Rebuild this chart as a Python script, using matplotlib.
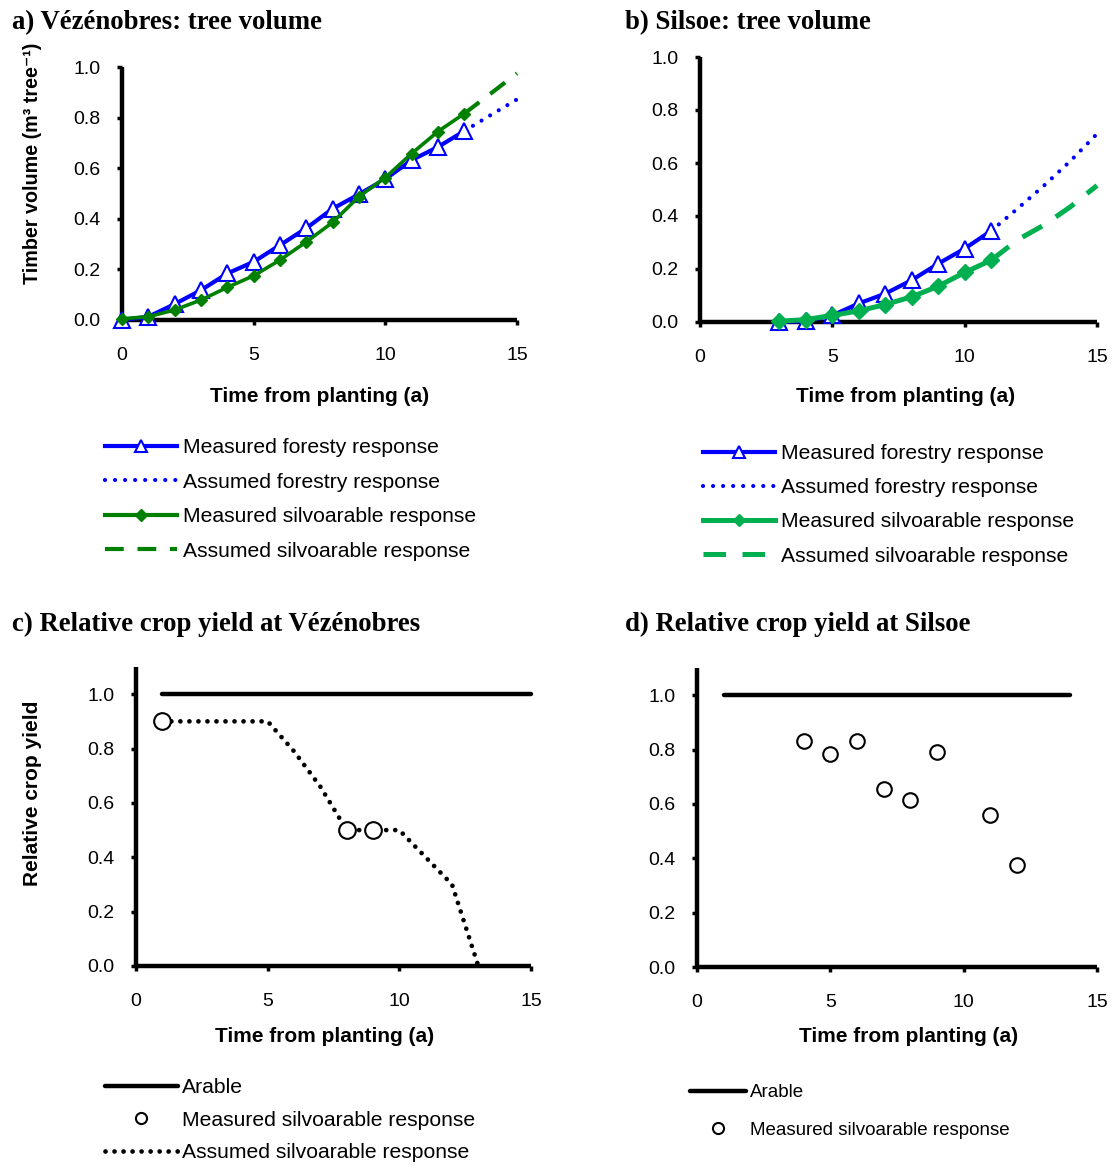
import matplotlib
matplotlib.use("Agg")
import matplotlib.pyplot as plt
from matplotlib.lines import Line2D

plt.rcParams['font.family'] = ['Liberation Sans', 'DejaVu Sans']

# ---------------- data ----------------
# a) Vezenobres tree volume
a_years = [0, 1, 2, 3, 4, 5, 6, 7, 8, 9, 10, 11, 12, 13]
a_forest = [0.0, 0.013, 0.063, 0.118, 0.184, 0.23, 0.296, 0.363, 0.44, 0.497, 0.557, 0.632, 0.684, 0.747]
a_silvo = [0.005, 0.013, 0.04, 0.079, 0.129, 0.175, 0.237, 0.309, 0.386, 0.488, 0.563, 0.658, 0.745, 0.816]
a_ass_years = [13, 14, 15]
a_ass_forest = [0.747, 0.81, 0.872]
a_ass_silvo = [0.816, 0.895, 0.975]

# b) Silsoe tree volume
b_years = [3, 4, 5, 6, 7, 8, 9, 10, 11]
b_forest = [0.0, 0.003, 0.025, 0.07, 0.107, 0.158, 0.22, 0.277, 0.344]
b_silvo = [0.003, 0.009, 0.025, 0.042, 0.066, 0.095, 0.135, 0.187, 0.233]
b_ass_years = [11, 12, 13, 14, 15]
b_ass_forest = [0.344, 0.428, 0.515, 0.608, 0.71]
b_ass_silvo = [0.233, 0.31, 0.366, 0.435, 0.515]

# c) relative crop yield Vezenobres
c_arable_years = [1, 15]
c_arable = [1.0, 1.0]
c_meas_years = [1, 8, 9]
c_meas = [0.9, 0.5, 0.5]
c_ass_years = [1, 2, 3, 4, 5, 6, 7, 8, 9, 10, 11, 12, 13]
c_ass = [0.9, 0.9, 0.9, 0.9, 0.9, 0.79, 0.66, 0.5, 0.5, 0.5, 0.4, 0.3, 0.0]

# d) relative crop yield Silsoe
d_arable_years = [1, 14]
d_arable = [1.0, 1.0]
d_meas_years = [4, 5, 6, 7, 8, 9, 11, 12]
d_meas = [0.832, 0.783, 0.832, 0.656, 0.616, 0.792, 0.559, 0.376]

x_ticks = [0, 5, 10, 15]
y_ticks = [0.0, 0.2, 0.4, 0.6, 0.8, 1.0]
y_ticklabels = ["0.0", "0.2", "0.4", "0.6", "0.8", "1.0"]

# ---------------- layout ----------------
W, H = 1112, 1169
fig = plt.figure(figsize=(W / 100, H / 100), dpi=100)


def add_ax(l, r, t, b):
    return fig.add_axes([l / W, 1 - b / H, (r - l) / W, (b - t) / H])


def style(ax, ytop):
    ax.set_xlim(0, 15)
    ax.set_ylim(0, ytop)
    for s in ['top', 'right']:
        ax.spines[s].set_visible(False)
    for s in ['left', 'bottom']:
        ax.spines[s].set_linewidth(3.2)
        ax.spines[s].set_capstyle('butt')
    ax.set_xticks(x_ticks)
    ax.set_yticks(y_ticks)
    ax.set_yticklabels(y_ticklabels)
    ax.tick_params(direction='out', length=3.5, width=2.5, labelsize=14)
    ax.tick_params(axis='x', pad=16)
    ax.tick_params(axis='y', pad=12)
    ax.patch.set_alpha(0)


def ftext(x, y, s, **kw):
    fig.text(x / W, 1 - y / H, s, **kw)


title_kw = dict(family=['Liberation Serif', 'DejaVu Serif'], fontweight='bold', fontsize=19.3,
                ha='left', va='center')
lab_kw = dict(fontweight='bold', fontsize=15, ha='center', va='center')

BLUE = '#0000FF'
GREEN_A = '#008000'
GREEN_B = '#00B050'

order = [2, 0, 3, 1]

# ---- panel a ----
axa = add_ax(122, 517, 67, 320)
style(axa, 1.0)
axa.plot(a_ass_years, a_ass_forest, color=BLUE, lw=3, linestyle=(0, (0.01, 2.4)),
         dash_capstyle='round', clip_on=False, label='Assumed forestry response')
axa.plot(a_ass_years, a_ass_silvo, color=GREEN_A, lw=3, linestyle=(0, (4.5, 3.3)),
         clip_on=False, label='Assumed silvoarable response')
axa.plot(a_years, a_forest, color=BLUE, lw=3, marker='^', markersize=11,
         markerfacecolor='white', markeredgecolor=BLUE, markeredgewidth=1.5,
         clip_on=False, label='Measured foresty response', zorder=3)
axa.plot(a_years, a_silvo, color=GREEN_A, lw=2.6, marker='D', markersize=6.5,
         markerfacecolor=GREEN_A, markeredgecolor=GREEN_A,
         clip_on=False, label='Measured silvoarable response', zorder=4)
ha, la = axa.get_legend_handles_labels()
la_h = [Line2D([], [], color=BLUE, lw=3, marker='^', markersize=8, markerfacecolor='white',
               markeredgecolor=BLUE, markeredgewidth=1.5), ha[0],
        Line2D([], [], color=GREEN_A, lw=3, marker='D', markersize=6,
               markerfacecolor=GREEN_A, markeredgecolor=GREEN_A), ha[1]]
fig.legend(la_h, [la[i] for i in order], loc='upper left',
           bbox_to_anchor=(105 / W, 1 - 438 / H), frameon=False, borderpad=0,
           fontsize=15.2, handlelength=3.4, handletextpad=0.3, labelspacing=0.74,
           borderaxespad=0)

# ---- panel b ----
axb = add_ax(700, 1097, 57, 322)
style(axb, 1.0)
axb.plot(b_ass_years, b_ass_forest, color=BLUE, lw=3, linestyle=(0, (0.01, 2.4)),
         dash_capstyle='round', clip_on=False, label='Assumed forestry response')
axb.plot(b_ass_years, b_ass_silvo, color=GREEN_B, lw=3.6, linestyle=(0, (4.5, 3.3)),
         clip_on=False, label='Assumed silvoarable response')
axb.plot(b_years, b_forest, color=BLUE, lw=3, marker='^', markersize=12,
         markerfacecolor='white', markeredgecolor=BLUE, markeredgewidth=1.5,
         clip_on=False, label='Measured forestry response', zorder=3)
axb.plot(b_years, b_silvo, color=GREEN_B, lw=3.6, marker='D', markersize=8,
         markerfacecolor=GREEN_B, markeredgecolor=GREEN_B,
         clip_on=False, label='Measured silvoarable response', zorder=4)
hb, lb = axb.get_legend_handles_labels()
lb_h = [Line2D([], [], color=BLUE, lw=3, marker='^', markersize=8, markerfacecolor='white',
               markeredgecolor=BLUE, markeredgewidth=1.5), hb[0],
        Line2D([], [], color=GREEN_B, lw=3.6, marker='D', markersize=6,
               markerfacecolor=GREEN_B, markeredgecolor=GREEN_B), hb[1]]
fig.legend(lb_h, [lb[i] for i in order], loc='upper left',
           bbox_to_anchor=(703 / W, 1 - 444 / H), frameon=False, borderpad=0,
           fontsize=15.2, handlelength=3.4, handletextpad=0.3, labelspacing=0.72,
           borderaxespad=0)

# ---- panel c ----
axc = add_ax(136, 531, 667, 966)
style(axc, 1.1)
axc.plot(c_arable_years, c_arable, color='black', lw=3.2, solid_capstyle='round',
         clip_on=False, label='Arable')
axc.plot(c_ass_years, c_ass, color='black', lw=3.4, linestyle=(0, (0.01, 1.9)),
         dash_capstyle='round', clip_on=False, label='Assumed silvoarable response')
axc.plot(c_meas_years, c_meas, linestyle='none', marker='o', markersize=12,
         markerfacecolor='white', markeredgecolor='black', markeredgewidth=1.5,
         clip_on=False, label='Measured silvoarable response', zorder=4)
hc, lc = axc.get_legend_handles_labels()
leg_c_handles = [hc[0], Line2D([], [], linestyle='none', marker='o', markersize=8,
                               markerfacecolor='white', markeredgecolor='black',
                               markeredgewidth=1.5), hc[1]]
fig.legend(leg_c_handles, [lc[0], lc[2], lc[1]], loc='upper left',
           bbox_to_anchor=(105 / W, 1 - 1078 / H), frameon=False, borderpad=0,
           fontsize=15.2, handlelength=3.45, handletextpad=0.2, labelspacing=0.65,
           borderaxespad=0)

# ---- panel d ----
axd = add_ax(697, 1097, 668, 967)
style(axd, 1.1)
axd.plot(d_arable_years, d_arable, color='black', lw=3.2, solid_capstyle='round',
         clip_on=False, label='Arable')
axd.plot(d_meas_years, d_meas, linestyle='none', marker='o', markersize=10.5,
         markerfacecolor='white', markeredgecolor='black', markeredgewidth=1.5,
         clip_on=False, label='Measured silvoarable response', zorder=4)
hd, ld = axd.get_legend_handles_labels()
leg_d_handles = [hd[0], Line2D([], [], linestyle='none', marker='o', markersize=8,
                               markerfacecolor='white', markeredgecolor='black',
                               markeredgewidth=1.5)]
fig.legend(leg_d_handles, ld, loc='upper left',
           bbox_to_anchor=(690 / W, 1 - 1084 / H), frameon=False, borderpad=0,
           fontsize=13.5, handlelength=3.0, handletextpad=0.2, labelspacing=1.1,
           borderaxespad=0)

# ---- titles and labels ----
ftext(12, 23, 'a) Vézénobres: tree volume', **title_kw)
ftext(625, 23, 'b) Silsoe: tree volume', **title_kw)
ftext(12, 624, 'c) Relative crop yield at Vézénobres', **title_kw)
ftext(625, 624, 'd) Relative crop yield at Silsoe', **title_kw)

ftext(320, 397, 'Time from planting (a)', **lab_kw)
ftext(906, 397, 'Time from planting (a)', **lab_kw)
ftext(325, 1036, 'Time from planting (a)', **lab_kw)
ftext(909, 1036, 'Time from planting (a)', **lab_kw)

ftext(33, 163, 'Timber volume (m³ tree⁻¹)', rotation=90,
      **dict(lab_kw, fontsize=14.2))
ftext(33, 793, 'Relative crop yield', rotation=90, **lab_kw)

fig.savefig('out.png', dpi=100)
